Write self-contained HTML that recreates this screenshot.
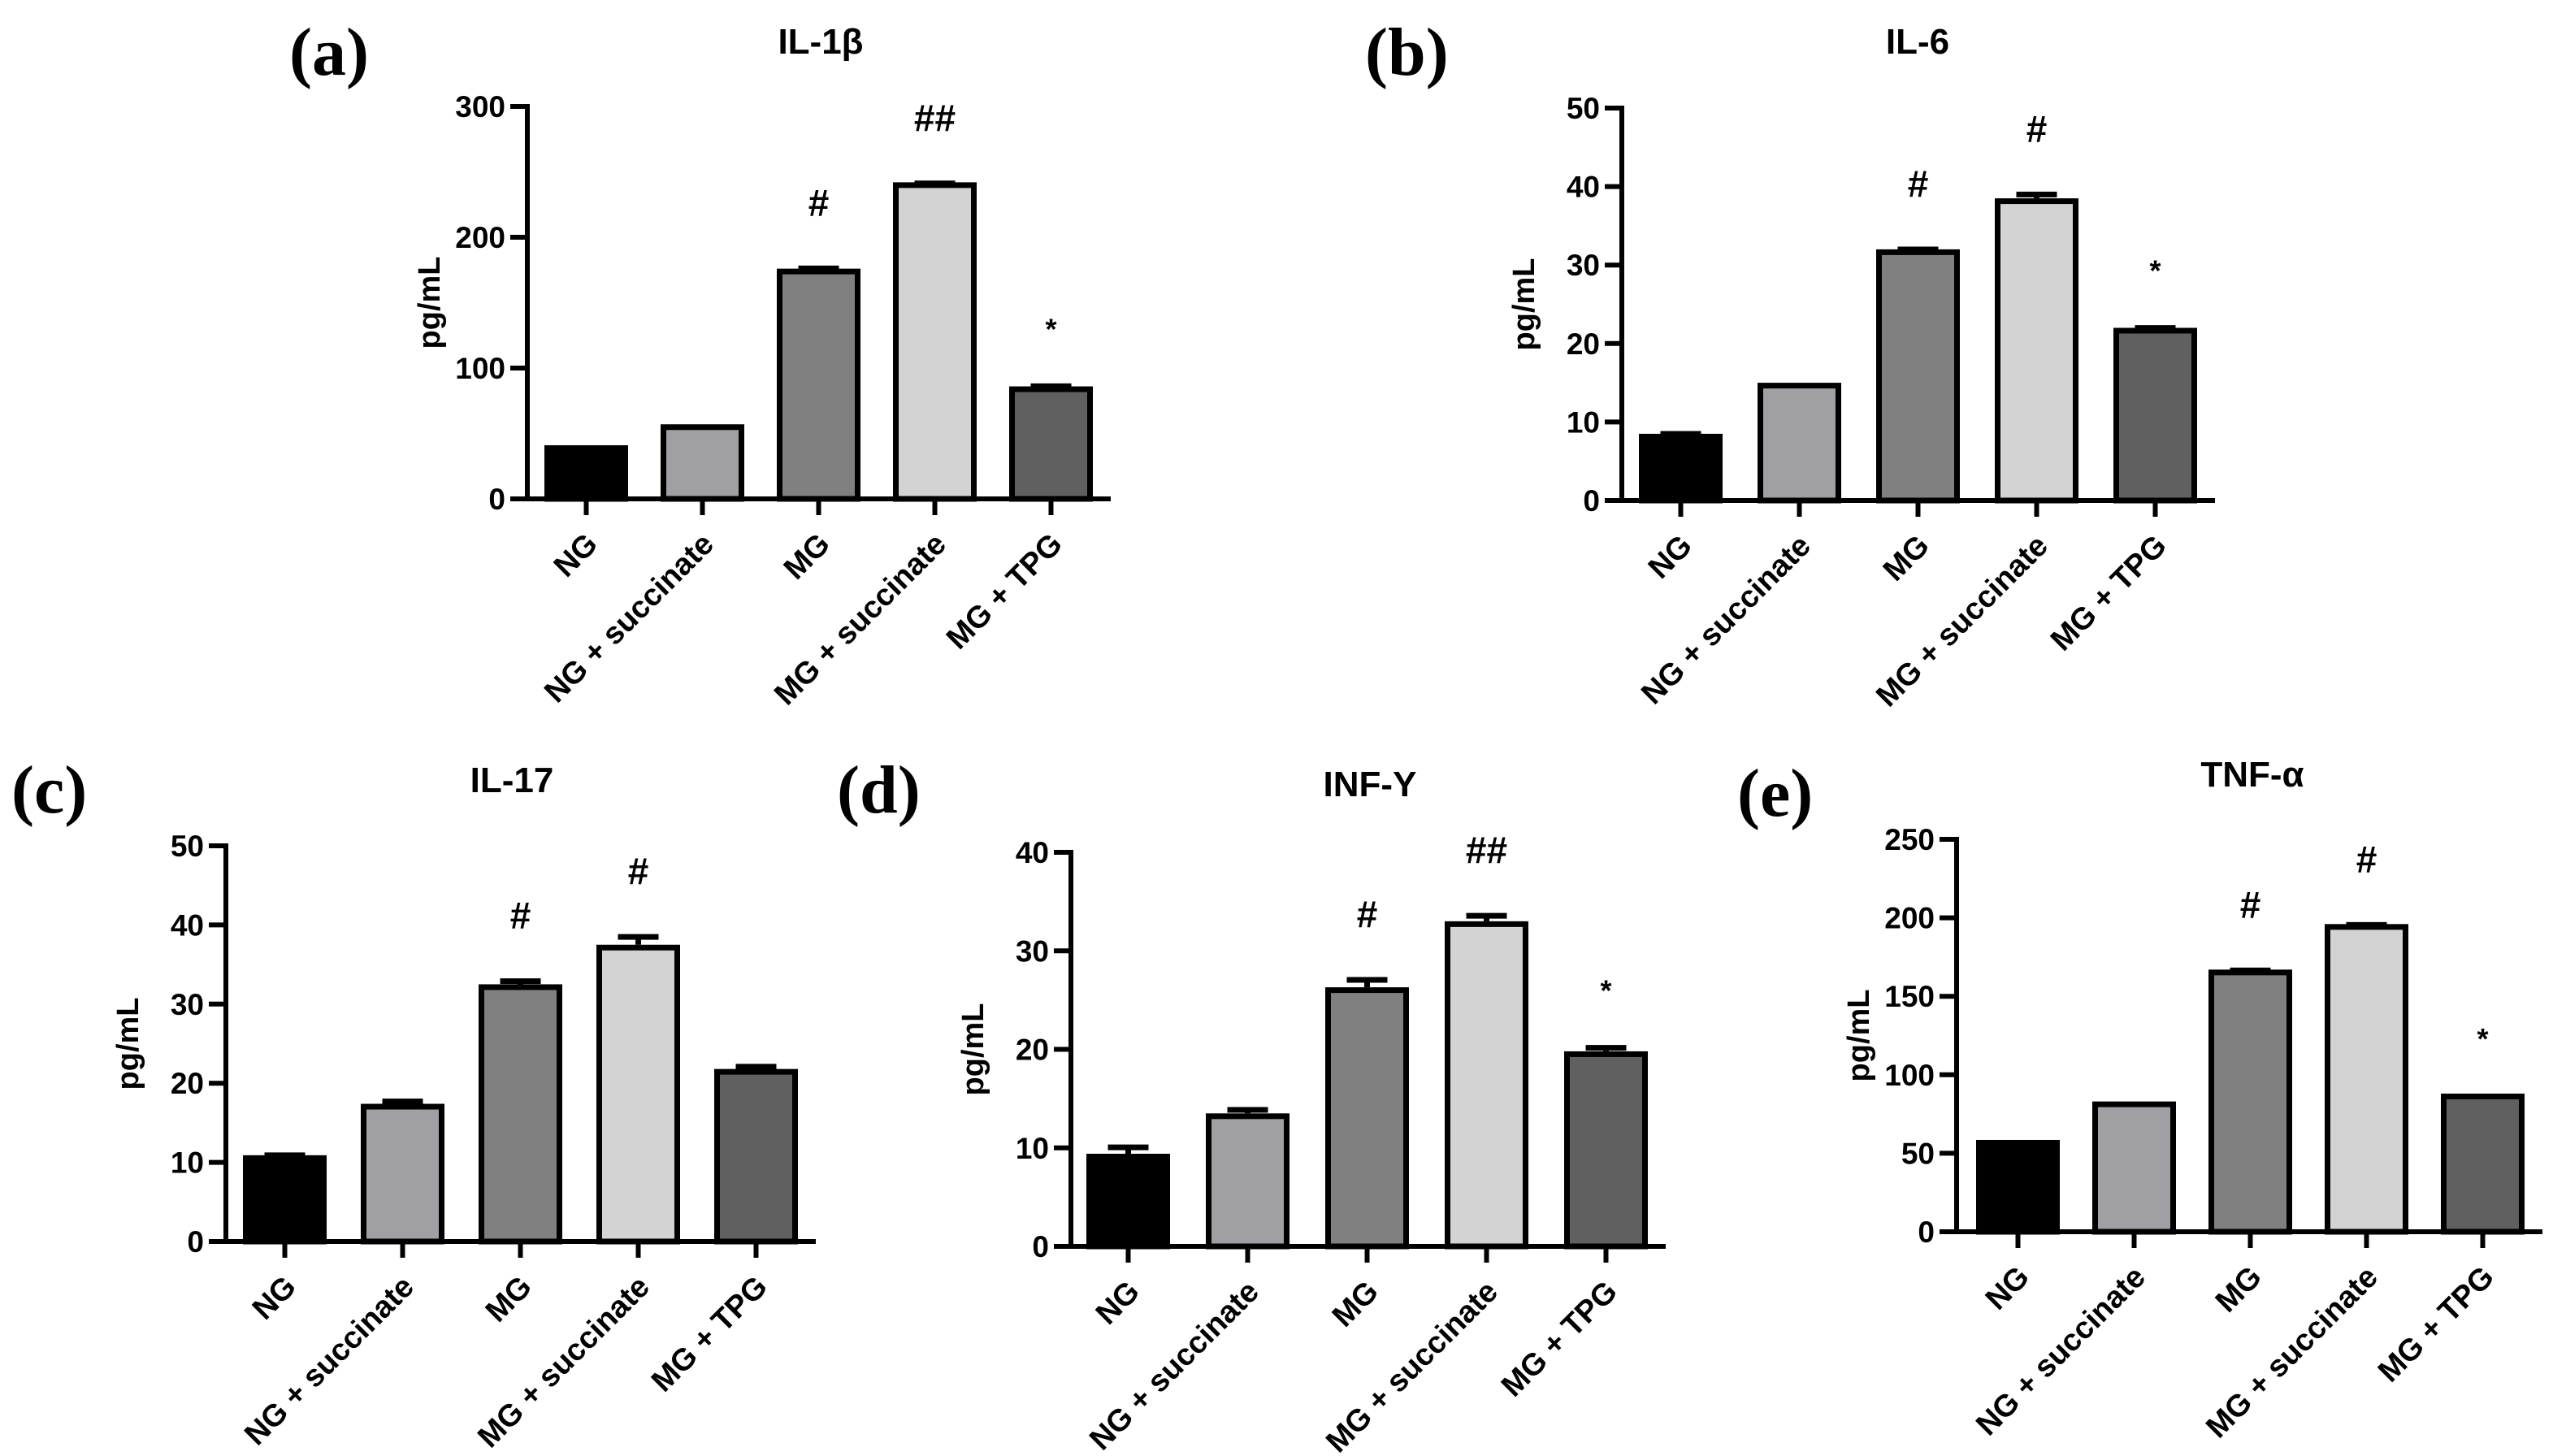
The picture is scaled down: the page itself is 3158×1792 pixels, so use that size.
<!DOCTYPE html>
<html><head><meta charset="utf-8"><style>
html,body{margin:0;padding:0;background:#fff;}
svg{display:block;}
text{font-family:"Liberation Sans",Arial,sans-serif;font-weight:bold;fill:#000;}
.pl{font-family:"Liberation Serif","Times New Roman",serif;font-size:84px;}
</style></head><body>
<svg id="fig" width="3158" height="1792" viewBox="0 0 3158 1792" xmlns="http://www.w3.org/2000/svg"></svg>
<script>
const categories = ["NG", "NG + succinate", "MG", "MG + succinate", "MG + TPG"];
const il1bValues = [41, 57, 176, 242, 86];
const il1bErrors = [0, 0, 2, 1, 2];
const il1bMarks = ["", "", "#", "##", "*"];
const il1bTicks = [0, 100, 200, 300];
const il6Values = [8.5, 15, 32, 38.5, 22];
const il6Errors = [0.3, 0, 0.3, 0.8, 0.3];
const il6Marks = ["", "", "#", "#", "*"];
const il6Ticks = [0, 10, 20, 30, 40, 50];
const il17Values = [10.9, 17.4, 32.5, 37.5, 21.8];
const il17Errors = [0.3, 0.6, 0.7, 1.3, 0.6];
const il17Marks = ["", "", "#", "#", ""];
const il17Ticks = [0, 10, 20, 30, 40, 50];
const infyValues = [9.4, 13.5, 26.3, 33, 19.8];
const infyErrors = [0.9, 0.6, 1.0, 0.8, 0.6];
const infyMarks = ["", "", "#", "##", "*"];
const infyTicks = [0, 10, 20, 30, 40];
const tnfValues = [58.5, 83, 167, 196, 88];
const tnfErrors = [0, 0, 1, 1, 0];
const tnfMarks = ["", "", "#", "#", "*"];
const tnfTicks = [0, 50, 100, 150, 200, 250];

const fills = ["#000000", "#a0a0a4", "#808080", "#d3d3d3", "#606060"];
const NS = "http://www.w3.org/2000/svg";
const svg = document.getElementById("fig");
function mk(tag, attrs, parent) {
  const e = document.createElementNS(NS, tag);
  for (const k in attrs) e.setAttribute(k, attrs[k]);
  (parent || svg).appendChild(e);
  return e;
}
function panel(cfg) {
  const g = mk("g", {});
  
  
  const max = cfg.ticks[cfg.ticks.length - 1];
  const y = v => cfg.y0 - (v / max) * (cfg.y0 - cfg.yT);
  const bx = i => cfg.first + i * cfg.pitch;
  const bw = 103;
  const xEnd = bx(4) + bw + 22;
  const pl = mk("text", {x: cfg.lx, y: cfg.ly, class: "pl"}, g);
  pl.textContent = cfg.label;
  
  
  const t = mk("text", {x: cfg.tx, y: cfg.ty, "font-size": 44, "text-anchor": "middle"}, g);
  t.textContent = cfg.title;
  
  
  const ym = (cfg.y0 + cfg.yT) / 2;
  const yl = mk("text", {x: 0, y: 0, "font-size": 38, "text-anchor": "middle", transform: `translate(${cfg.ax - 108},${ym}) rotate(-90)`}, g);
  yl.textContent = "pg/mL";
  
  
  cfg.values.forEach((v, i) => {
    const top = y(v);
    const r = mk("rect", {x: bx(i) + 3.5, y: top + 3.5, width: bw - 7, height: cfg.y0 - top - 3.5, fill: fills[i], stroke: "#000", "stroke-width": 7}, g);
    
    
    const e = cfg.errors[i];
    if (e > 0) {
      const cx = bx(i) + bw / 2;
      const ey = y(v + e);
      const l = mk("path", {d: `M${cx},${top} V${ey + 3} M${cx - 25},${ey + 3} H${cx + 25}`, stroke: "#000", "stroke-width": 7, fill: "none"}, g);
      
      
    }
    if (cfg.marks[i]) {
      const star = cfg.marks[i] === "*";
      const m = mk("text", {x: bx(i) + bw / 2, y: y(v + e) - (star ? 55 : 62), "font-size": star ? 36 : 46, "text-anchor": "middle"}, g);
      m.textContent = cfg.marks[i];
      
      
    }
    const cx = bx(i) + bw / 2;
    const tk = mk("line", {x1: cx, x2: cx, y1: cfg.y0, y2: cfg.y0 + 20, stroke: "#000", "stroke-width": 6}, g);
    
    
    const xl = mk("text", {x: 0, y: 0, "font-size": 38, "text-anchor": "end", transform: `translate(${cx + 16},${cfg.y0 + 58}) rotate(-45)`}, g);
    xl.textContent = categories[i];
    
    
  });
  const ya = mk("line", {x1: cfg.ax, x2: cfg.ax, y1: cfg.yT - 3, y2: cfg.y0 + 3, stroke: "#000", "stroke-width": 6}, g);
  
  
  const xa = mk("line", {x1: cfg.ax - 21, x2: xEnd, y1: cfg.y0, y2: cfg.y0, stroke: "#000", "stroke-width": 6}, g);
  
  
  cfg.ticks.forEach(tv => {
    const ty = y(tv);
    const tl = mk("line", {x1: cfg.ax - 21, x2: cfg.ax, y1: ty, y2: ty, stroke: "#000", "stroke-width": 6}, g);
    
    
    const tt = mk("text", {x: cfg.ax - 27, y: ty + 13, "font-size": 37, "text-anchor": "end"}, g);
    tt.textContent = tv;
    
    
  });
}
panel({name: "il-1b", label: "(a)", lx: 356, ly: 92, title: "IL-1β", tx: 1010, ty: 66, ax: 649, y0: 614, yT: 131, first: 670, pitch: 143, values: il1bValues, errors: il1bErrors, marks: il1bMarks, ticks: il1bTicks});
panel({name: "il-6", label: "(b)", lx: 1680, ly: 92, title: "IL-6", tx: 2360, ty: 66, ax: 1996, y0: 616, yT: 133, first: 2017, pitch: 146, values: il6Values, errors: il6Errors, marks: il6Marks, ticks: il6Ticks});
panel({name: "il-17", label: "(c)", lx: 14, ly: 1000, title: "IL-17", tx: 630, ty: 975, ax: 278, y0: 1528, yT: 1041, first: 299, pitch: 145, values: il17Values, errors: il17Errors, marks: il17Marks, ticks: il17Ticks});
panel({name: "inf-y", label: "(d)", lx: 1030, ly: 1000, title: "INF-Y", tx: 1686, ty: 980, ax: 1318, y0: 1534, yT: 1049, first: 1337, pitch: 147, values: infyValues, errors: infyErrors, marks: infyMarks, ticks: infyTicks});
panel({name: "tnf-a", label: "(e)", lx: 2138, ly: 1004, title: "TNF-α", tx: 2772, ty: 968, ax: 2408, y0: 1516, yT: 1033, first: 2432, pitch: 143, values: tnfValues, errors: tnfErrors, marks: tnfMarks, ticks: tnfTicks});
</script>
</body></html>
